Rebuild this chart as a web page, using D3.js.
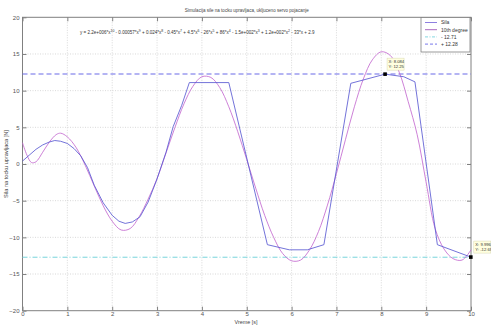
<!DOCTYPE html>
<html>
<head>
<meta charset="utf-8">
<script src="https://cdn.jsdelivr.net/npm/d3@7"></script>
<style>
  body { margin: 0; background: #fff; }
  svg { font-family: "Liberation Sans", Arial, sans-serif; }
</style>
</head>
<body>
<div id="chart"></div>
<script>
// measured force (piecewise sampled)
var silaX = [0, 0.15, 0.3, 0.45, 0.6, 0.72, 0.85, 1.0, 1.15, 1.3, 1.45, 1.6, 1.8, 2.0, 2.15, 2.29, 2.45, 2.62, 2.8, 2.99, 3.2, 3.36, 3.55, 3.72, 4.6, 5.46, 5.95, 6.35, 6.72, 7.32, 8.084, 8.5, 8.75, 9.25, 9.996];
var silaY = [0.4, 1.2, 2.0, 2.6, 3.0, 3.2, 3.1, 2.8, 2.1, 1.1, -0.5, -2.9, -5.3, -7.0, -7.8, -8.1, -7.9, -7.2, -5.2, -2.2, 1.6, 5.1, 8.0, 11.1, 11.1, -11.0, -11.7, -11.7, -11.0, 11.0, 12.25, 11.9, 11.2, -11.0, -12.69];

// 10th degree polynomial fit
var fitX = [0, 0.1, 0.2, 0.3, 0.45, 0.6, 0.75, 0.85, 1.0, 1.2, 1.4, 1.6, 1.8, 2.0, 2.2, 2.4, 2.6, 2.8, 3.0, 3.2, 3.4, 3.6, 3.8, 4.0, 4.2, 4.4, 4.6, 4.8, 5.0, 5.2, 5.4, 5.6, 5.8, 6.0, 6.2, 6.4, 6.6, 6.8, 7.0, 7.2, 7.4, 7.6, 7.8, 8.0, 8.2, 8.4, 8.6, 8.8, 9.0, 9.2, 9.4, 9.6, 9.8, 10.0];
var fitY = [2.9, 1.2, 0.2, 0.3, 1.6, 3.0, 4.0, 4.2, 3.7, 2.2, -0.2, -3.0, -5.7, -7.8, -9.0, -8.8, -7.2, -4.8, -2.0, 1.5, 5.0, 8.2, 10.6, 11.9, 11.8, 10.4, 7.8, 4.4, 0.6, -3.3, -7.0, -10.0, -12.2, -13.2, -13.1, -11.7, -9.2, -5.6, -1.3, 3.3, 7.8, 11.6, 14.2, 15.3, 14.8, 12.5, 8.5, 4.0, -2.5, -8.8, -11.6, -12.9, -13.1, -11.7];

var minLevel = -12.71;
var maxLevel = 12.28;

var xTicks = [0, 1, 2, 3, 4, 5, 6, 7, 8, 9, 10];
var yTicks = [-20, -15, -10, -5, 0, 5, 10, 15, 20];

var legendLabels = ["Sila", "10th degree", "- 12.71", "+ 12.28"];

var tips = [
  { x: 8.084, y: 12.25, lines: ["X: 8.084", "Y: 12.25"], dx: 2, dy: -16 },
  { x: 9.996, y: -12.69, lines: ["X: 9.996", "Y: -12.69"], dx: 3, dy: -16 }
];

var titleText = "Simulacija sile na tocku upravljaca, ukljuceno servo pojacanje";
var eqParts = [["y = 2.2e+006*x", "10"], [" - 0.00057*x", "9"], [" + 0.024*x", "8"], [" - 0.45*x", "7"],
  [" + 4.5*x", "6"], [" - 26*x", "5"], [" + 86*x", "4"], [" - 1.5e+002*x", "3"], [" + 1.2e+002*x", "2"], [" - 33*x + 2.9", ""]];

var width = 491, height = 325;
var mLeft = 22.5, mRight = 471, mTop = 17.3, mBottom = 310.7;

var svg = d3.select("#chart").append("svg")
  .attr("width", width)
  .attr("height", height);

var x = d3.scaleLinear().domain([0, 10]).range([mLeft, mRight]);
var y = d3.scaleLinear().domain([-20, 20]).range([mBottom, mTop]);

var axisColor = "#808080";
var textColor = "#555";

// grid
svg.append("g").selectAll("line")
  .data(xTicks.slice(1, -1))
  .join("line")
  .attr("x1", d => x(d)).attr("x2", d => x(d))
  .attr("y1", mTop).attr("y2", mBottom)
  .attr("stroke", "#c8c8c8").attr("stroke-width", 0.7)
  .attr("stroke-dasharray", "1,1.5");

svg.append("g").selectAll("line")
  .data(yTicks.slice(1, -1))
  .join("line")
  .attr("x1", mLeft).attr("x2", mRight)
  .attr("y1", d => y(d)).attr("y2", d => y(d))
  .attr("stroke", "#c8c8c8").attr("stroke-width", 0.7)
  .attr("stroke-dasharray", "1,1.5");

// axes (ticks inside, on all four sides)
var tickLen = 4;
function styleAxis(g) {
  g.select(".domain").remove();
  g.selectAll(".tick line").attr("stroke", axisColor);
  g.selectAll(".tick text").attr("fill", textColor).attr("font-size", 6);
}
svg.append("g").attr("transform", "translate(0," + mBottom + ")")
  .call(d3.axisBottom(x).tickValues(xTicks).tickSize(-tickLen).tickPadding(1.2))
  .call(styleAxis);
svg.append("g").attr("transform", "translate(0," + mTop + ")")
  .call(d3.axisTop(x).tickValues(xTicks).tickSize(-tickLen).tickFormat(""))
  .call(styleAxis);
svg.append("g").attr("transform", "translate(" + mLeft + ",0)")
  .call(d3.axisLeft(y).tickValues(yTicks).tickSize(-tickLen).tickPadding(3))
  .call(styleAxis);
svg.append("g").attr("transform", "translate(" + mRight + ",0)")
  .call(d3.axisRight(y).tickValues(yTicks).tickSize(-tickLen).tickFormat(""))
  .call(styleAxis);

svg.append("rect")
  .attr("x", mLeft).attr("y", mTop)
  .attr("width", mRight - mLeft).attr("height", mBottom - mTop)
  .attr("fill", "none").attr("stroke", axisColor).attr("stroke-width", 1);

// level lines
svg.append("line")
  .attr("x1", mLeft).attr("x2", mRight)
  .attr("y1", y(minLevel)).attr("y2", y(minLevel))
  .attr("stroke", "#78d4dc").attr("stroke-width", 1)
  .attr("stroke-dasharray", "5,2,1,2");
svg.append("line")
  .attr("x1", mLeft).attr("x2", mRight)
  .attr("y1", y(maxLevel)).attr("y2", y(maxLevel))
  .attr("stroke", "#6a6ae8").attr("stroke-width", 1.1)
  .attr("stroke-dasharray", "5,3");

// curves
svg.append("path")
  .datum(d3.zip(fitX, fitY))
  .attr("d", d3.line().x(d => x(d[0])).y(d => y(d[1])).curve(d3.curveCatmullRom))
  .attr("fill", "none").attr("stroke", "#c46ad0").attr("stroke-width", 0.85);
svg.append("path")
  .datum(d3.zip(silaX, silaY))
  .attr("d", d3.line().x(d => x(d[0])).y(d => y(d[1])))
  .attr("fill", "none").attr("stroke", "#5a5ad2").attr("stroke-width", 0.85);

// data tips
tips.forEach(function(t) {
  var px = x(t.x), py = y(t.y);
  svg.append("rect")
    .attr("x", px - 1.8).attr("y", py - 1.8)
    .attr("width", 3.6).attr("height", 3.6)
    .attr("fill", "#000");
  var g = svg.append("g").attr("transform", "translate(" + (px + t.dx) + "," + (py + t.dy) + ")");
  g.append("rect")
    .attr("width", 17).attr("height", 12)
    .attr("fill", "#ffffe0").attr("stroke", "#d8d8b0").attr("stroke-width", 0.5);
  g.selectAll("text")
    .data(t.lines)
    .join("text")
    .attr("x", 1.5).attr("y", (d, i) => 4.8 + i * 5)
    .attr("font-size", 4.2).attr("fill", "#333")
    .text(d => d);
});

// legend
var lg = svg.append("g").attr("transform", "translate(421,17.5)");
lg.append("rect")
  .attr("width", 49).attr("height", 34.5)
  .attr("fill", "#fff").attr("stroke", axisColor).attr("stroke-width", 0.8);
var legendStyles = [
  { color: "#8070dc", dash: null },
  { color: "#a058b8", dash: null },
  { color: "#78d4dc", dash: "3,1.5,1,1.5" },
  { color: "#6a6ae8", dash: "3,2" }
];
legendLabels.forEach(function(lab, i) {
  var ly = 5 + i * 7.2;
  lg.append("line")
    .attr("x1", 4).attr("x2", 16)
    .attr("y1", ly).attr("y2", ly)
    .attr("stroke", legendStyles[i].color).attr("stroke-width", 0.9)
    .attr("stroke-dasharray", legendStyles[i].dash);
  lg.append("text")
    .attr("x", 20).attr("y", ly + 1.8)
    .attr("font-size", 5).attr("fill", "#333")
    .text(lab);
});

// title
svg.append("text")
  .attr("x", (mLeft + mRight) / 2).attr("y", 12)
  .attr("text-anchor", "middle")
  .attr("font-size", 5.6).attr("fill", "#444")
  .attr("textLength", 124).attr("lengthAdjust", "spacingAndGlyphs")
  .text(titleText);

// equation (superscripts raised, base text back on the line)
var eq = svg.append("text")
  .attr("x", 80).attr("y", 34)
  .attr("font-size", 5).attr("fill", "#333");
var raised = false;
eqParts.forEach(function(p) {
  eq.append("tspan").attr("dy", raised ? 2.2 : 0).text(p[0]);
  raised = false;
  if (p[1]) {
    eq.append("tspan").attr("dy", -2.2).attr("font-size", 3.8).text(p[1]);
    raised = true;
  }
});
var eqW = eq.node().getComputedTextLength();
eq.attr("transform", "translate(80,34) scale(" + (235 / eqW) + ",1) translate(-80,-34)");

// axis labels
svg.append("text")
  .attr("x", 246).attr("y", 323.5)
  .attr("text-anchor", "middle")
  .attr("font-size", 5.4).attr("fill", "#444")
  .text("Vreme [s]");
svg.append("text")
  .attr("transform", "translate(8," + ((mTop + mBottom) / 2) + ") rotate(-90)")
  .attr("text-anchor", "middle")
  .attr("font-size", 5.6).attr("fill", "#444")
  .text("Sila na tocku upravljaca [N]");
</script>
</body>
</html>
